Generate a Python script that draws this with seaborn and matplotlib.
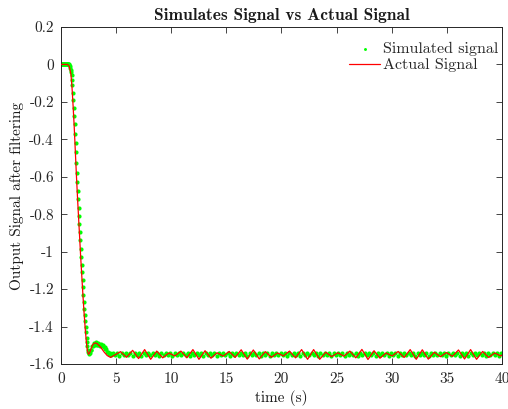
import numpy as np
import matplotlib
matplotlib.use('Agg')
import matplotlib.pyplot as plt
import seaborn as sns

# actual signal (red line): step response
red_t = [0.0, 0.6, 0.75, 0.9, 1.0, 1.1, 1.2, 1.3, 1.4, 1.5, 1.6, 1.7, 1.8, 1.9, 2.0,
         2.1, 2.2, 2.3, 2.4, 2.5, 2.6, 2.75, 2.9, 3.1, 3.3, 3.6, 3.9, 4.2, 4.5,
         5.40, 5.95, 6.50, 7.04, 7.59, 8.14, 8.69, 9.23, 9.78, 10.33,
         10.88, 11.42, 11.97, 12.52, 13.07, 13.61, 14.16, 14.71, 15.26, 15.80,
         16.35, 16.90, 17.45, 17.99, 18.54, 19.09, 19.64, 20.18, 20.73, 21.28,
         21.83, 22.37, 22.92, 23.47, 24.02, 24.56, 25.11, 25.66, 26.21, 26.75,
         27.30, 27.85, 28.40, 28.94, 29.49, 30.04, 30.59, 31.13, 31.68, 32.23,
         32.78, 33.32, 33.87, 34.42, 34.97, 35.51, 36.06, 36.61, 37.16, 37.70,
         38.25, 38.80, 39.35, 39.89, 40.0]
red_y = [0.0, 0.0, -0.01, -0.05, -0.12, -0.22, -0.33, -0.46, -0.59, -0.71, -0.82, -0.93, -1.04, -1.14, -1.24,
         -1.33, -1.41, -1.48, -1.53, -1.548, -1.54, -1.515, -1.495, -1.487, -1.492, -1.51, -1.535, -1.555, -1.565,
         -1.534, -1.564, -1.527, -1.571, -1.523, -1.575, -1.531, -1.567, -1.541, -1.557,
         -1.531, -1.567, -1.523, -1.575, -1.529, -1.569, -1.540, -1.558, -1.533, -1.565,
         -1.524, -1.574, -1.525, -1.573, -1.534, -1.564, -1.541, -1.557, -1.531, -1.567,
         -1.523, -1.575, -1.523, -1.575, -1.537, -1.561, -1.540, -1.558, -1.531, -1.567,
         -1.522, -1.576, -1.529, -1.569, -1.541, -1.557, -1.533, -1.565, -1.523, -1.575,
         -1.524, -1.574, -1.537, -1.561, -1.539, -1.559, -1.525, -1.573, -1.523, -1.575,
         -1.533, -1.565, -1.541, -1.557, -1.552]

# simulated signal (green dots)
green_flat = [0.0] * 19
green_fall = [-0.005, -0.01, -0.02, -0.03, -0.04, -0.055, -0.085, -0.11, -0.15, -0.19,
              -0.23, -0.275, -0.32, -0.37, -0.42, -0.47, -0.525, -0.58, -0.63, -0.675,
              -0.72, -0.765, -0.81, -0.85, -0.895, -0.94, -0.985, -1.03, -1.07, -1.11,
              -1.15, -1.19, -1.23, -1.27, -1.305, -1.34, -1.37, -1.40, -1.43, -1.46,
              -1.485, -1.505, -1.525, -1.535, -1.543, -1.545, -1.54]
green_bump = [-1.524, -1.526, -1.504, -1.506, -1.489, -1.496, -1.484, -1.496, -1.487, -1.501,
              -1.491, -1.503, -1.494, -1.506, -1.496, -1.508, -1.509, -1.521, -1.522, -1.534,
              -1.534, -1.546, -1.542, -1.554, -1.544]
green_steady = [
    -1.541, -1.554, -1.540, -1.555, -1.542, -1.553, -1.541, -1.554, -1.540, -1.555,
    -1.542, -1.553, -1.541, -1.555, -1.540, -1.554, -1.542, -1.553, -1.541, -1.554,
    -1.540, -1.555, -1.541, -1.553, -1.542, -1.554, -1.540, -1.555, -1.541, -1.554,
    -1.542, -1.553, -1.540, -1.554, -1.541, -1.555, -1.542, -1.553, -1.541, -1.554,
    -1.540, -1.555, -1.542, -1.553, -1.541, -1.554, -1.540, -1.555, -1.541, -1.553,
    -1.542, -1.554, -1.540, -1.555, -1.541, -1.554, -1.542, -1.553, -1.540, -1.554,
    -1.541, -1.555, -1.542, -1.553, -1.541, -1.554, -1.540, -1.555, -1.542, -1.553,
    -1.541, -1.555, -1.540, -1.554, -1.542, -1.553, -1.541, -1.554, -1.540, -1.555,
    -1.541, -1.553, -1.542, -1.554, -1.540, -1.555, -1.541, -1.554, -1.542, -1.553,
    -1.540, -1.554, -1.541, -1.555, -1.542, -1.553, -1.541, -1.554, -1.540, -1.555,
    -1.542, -1.553, -1.541, -1.554, -1.540, -1.555, -1.541, -1.553, -1.542, -1.554,
    -1.540, -1.555, -1.541, -1.554, -1.542, -1.553, -1.540, -1.554, -1.541, -1.555,
    -1.542, -1.553, -1.541, -1.554, -1.540, -1.555, -1.542, -1.553, -1.541, -1.555,
    -1.540, -1.554, -1.542, -1.553, -1.541, -1.554, -1.540, -1.555, -1.541, -1.553,
    -1.542, -1.554, -1.540, -1.555, -1.541, -1.554, -1.542, -1.553, -1.540, -1.554,
    -1.541, -1.555, -1.542, -1.553, -1.541, -1.554, -1.540, -1.555, -1.542, -1.553,
    -1.541, -1.555, -1.540, -1.554, -1.542, -1.553, -1.541, -1.554, -1.540, -1.555,
    -1.541, -1.553, -1.542, -1.554, -1.540, -1.555, -1.541]

green_t = np.concatenate([
    np.linspace(0.0, 0.72, len(green_flat)),
    np.linspace(0.76, 2.60, len(green_fall)),
    np.linspace(2.68, 4.60, len(green_bump)),
    np.linspace(4.70, 39.96, len(green_steady)),
])
green_y = green_flat + green_fall + green_bump + green_steady

x_ticks = [0, 5, 10, 15, 20, 25, 30, 35, 40]
y_ticks = [0.2, 0, -0.2, -0.4, -0.6, -0.8, -1, -1.2, -1.4, -1.6]
y_labels = ['0.2', '0', '-0.2', '-0.4', '-0.6', '-0.8', '-1', '-1.2', '-1.4', '-1.6']

sns.set_style('ticks')
plt.rcParams['font.family'] = ['cmr10', 'DejaVu Serif']
plt.rcParams['axes.unicode_minus'] = False
plt.rcParams['axes.formatter.use_mathtext'] = False

fig = plt.figure(figsize=(5.08, 4.09), dpi=100)
ax = fig.add_axes([0.120, 0.110, 0.868, 0.824])

sns.scatterplot(x=green_t, y=green_y, ax=ax, color='#00ff00', s=9, linewidth=0,
                label='Simulated signal', zorder=2)
sns.lineplot(x=red_t, y=red_y, ax=ax, color='#ff0000', linewidth=0.9,
             label='Actual Signal', zorder=3, sort=False)

ax.set_xlim(0, 40)
ax.set_ylim(-1.6, 0.2)
ax.set_xticks(x_ticks)
ax.set_xticklabels([str(v) for v in x_ticks])
ax.set_yticks(y_ticks)
ax.set_yticklabels(y_labels)
ax.tick_params(axis='both', direction='in', top=True, right=True, length=4, width=0.6,
               labelsize=11, colors='#262626')
ax.tick_params(axis='x', pad=6)
ax.tick_params(axis='y', pad=5)
for s in ax.spines.values():
    s.set_color('#262626')
    s.set_linewidth(0.7)
    s.set_visible(True)

ax.set_title('Simulates Signal vs Actual Signal', fontsize=12.5, fontfamily='cmb10',
             color='#1a1a1a', pad=5)
ax.set_xlabel('time (s)', fontsize=11, color='#1a1a1a', labelpad=3)
ax.set_ylabel('Output Signal after filtering', fontsize=11, color='#1a1a1a', labelpad=4)

leg = ax.legend(loc='upper right', bbox_to_anchor=(1.017, 0.988), frameon=False,
                fontsize=11.5, handlelength=1.9, handletextpad=0.2, labelspacing=0.1,
                borderaxespad=0.3, markerscale=0.7)

fig.savefig('out.png', dpi=100)
